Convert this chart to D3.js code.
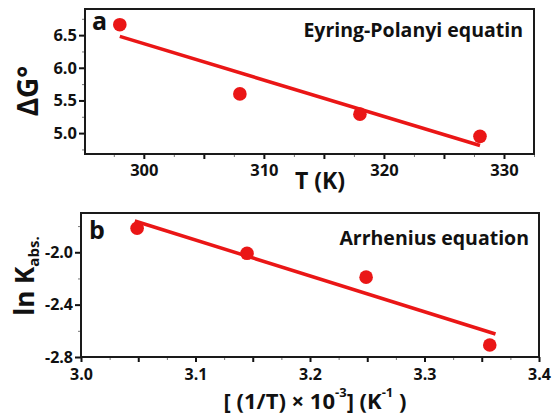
<!DOCTYPE html>
<html><head><meta charset="utf-8">
<script src="https://cdn.jsdelivr.net/npm/d3@7"></script>
<style>
body{margin:0;background:#fff;}
text{font-family:"Open Sans",sans-serif;font-weight:700;fill:#111;}
</style></head>
<body><svg id="c" width="555" height="415"></svg>
<script>
// Panel a: Eyring-Polanyi
const tempK = [298, 308, 318, 328];
const deltaG = [6.66, 5.60, 5.29, 4.95];
const fitA_T = [298, 328];
const fitA_G = [6.48, 4.81];
const xTicksA = [300, 310, 320, 330];
const yTicksA = [5.0, 5.5, 6.0, 6.5];
// Panel b: Arrhenius
const invT = [3.049, 3.145, 3.249, 3.357];
const lnK = [-1.817, -2.008, -2.19, -2.708];
const fitB_X = [3.047, 3.362];
const fitB_Y = [-1.761, -2.624];
const xTicksB = [3.0, 3.1, 3.2, 3.3, 3.4];
const yTicksB = [-2.8, -2.4, -2.0];

const svg = d3.select("#c");
const red = "#ea1616";
const fmt1 = v => v.toFixed(1);

function panel(o){
  const g = svg.append("g");
  const x = d3.scaleLinear().domain(o.xd).range([o.l, o.r]);
  const y = d3.scaleLinear().domain(o.yd).range([o.b, o.t]);
  const xAxisMinor = d3.axisBottom(x).tickValues(o.xMinor).tickSize(3).tickFormat("");
  g.append("g").attr("transform",`translate(0,${o.b})`).call(xAxisMinor)
    .call(s=>s.select(".domain").remove()).selectAll("line").attr("stroke","#777").attr("stroke-width",1);
  const xAxisMid = d3.axisBottom(x).tickValues(o.xMid).tickSize(5).tickFormat("");
  g.append("g").attr("transform",`translate(0,${o.b})`).call(xAxisMid)
    .call(s=>s.select(".domain").remove()).selectAll("line").attr("stroke","#111").attr("stroke-width",2);
  const xAxis = d3.axisBottom(x).tickValues(o.xTicks).tickSize(5).tickPadding(o.xpad).tickFormat(o.xFmt);
  const xa = g.append("g").attr("transform",`translate(0,${o.b})`).call(xAxis);
  xa.select(".domain").remove();
  xa.selectAll("line").attr("stroke","#111").attr("stroke-width",2);
  xa.selectAll("text").attr("font-size",o.fs).attr("font-family","'Open Sans',sans-serif").attr("font-weight",700).attr("fill","#111");

  const yAxisMinor = d3.axisLeft(y).tickValues(o.yMinor).tickSize(3).tickFormat("");
  g.append("g").attr("transform",`translate(${o.l},0)`).call(yAxisMinor)
    .call(s=>s.select(".domain").remove()).selectAll("line").attr("stroke","#777").attr("stroke-width",1);
  const yAxis = d3.axisLeft(y).tickValues(o.yTicks).tickSize(6).tickPadding(2).tickFormat(o.yFmt);
  const ya = g.append("g").attr("transform",`translate(${o.l},0)`).call(yAxis);
  ya.select(".domain").remove();
  ya.selectAll("line").attr("stroke","#111").attr("stroke-width",2);
  ya.selectAll("text").attr("font-size",o.fs).attr("font-family","'Open Sans',sans-serif").attr("font-weight",700).attr("fill","#111");

  g.append("rect").attr("x",o.l).attr("y",o.t).attr("width",o.r-o.l).attr("height",o.b-o.t)
    .attr("fill","none").attr("stroke","#1a1a1a").attr("stroke-width",2);

  g.append("line").attr("x1",x(o.fx[0])).attr("y1",y(o.fy[0])).attr("x2",x(o.fx[1])).attr("y2",y(o.fy[1]))
    .attr("stroke",red).attr("stroke-width",3.5);
  g.selectAll("circle.p").data(o.px.map((v,i)=>[v,o.py[i]])).enter().append("circle")
    .attr("cx",d=>x(d[0])).attr("cy",d=>y(d[1])).attr("r",6.8).attr("fill",red);
  return {g,x,y};
}

panel({l:85,r:534,t:9,b:154,xd:[295.1,332.5],yd:[4.68,6.9],
  xTicks:xTicksA, xMid:d3.range(305,332,10), xMinor:d3.range(297.5,333,2.5),
  yTicks:yTicksA, yMinor:d3.range(4.75,6.9,0.25),
  xFmt:d3.format("d"), yFmt:fmt1, fs:16.5, xpad:5,
  fx:fitA_T, fy:fitA_G, px:tempK, py:deltaG});

panel({l:81,r:539,t:213,b:357,xd:[3.0,3.4],yd:[-2.8,-1.7],
  xTicks:xTicksB, xMid:[3.05,3.15,3.25,3.35], xMinor:d3.range(3.025,3.4,0.05),
  yTicks:yTicksB, yMinor:[-2.6,-2.2,-1.8],
  xFmt:fmt1, yFmt:fmt1, fs:16, xpad:7,
  fx:fitB_X, fy:fitB_Y, px:invT, py:lnK});

svg.append("text").attr("x",92).attr("y",30).attr("font-size",25).text("a");
svg.append("text").attr("x",89).attr("y",239).attr("font-size",25).text("b");
svg.append("text").attr("x",523).attr("y",37).attr("text-anchor","end").attr("font-size",19.5).text("Eyring-Polanyi equatin");
svg.append("text").attr("x",529).attr("y",245).attr("text-anchor","end").attr("font-size",19.5).text("Arrhenius equation");

svg.append("text").attr("x",320).attr("y",189).attr("text-anchor","middle").attr("font-size",23).text("T (K)");
svg.append("text").attr("transform","translate(38,91) rotate(-90)").attr("text-anchor","middle").attr("font-size",28).text("ΔG°");
const ylb = svg.append("text").attr("transform","translate(34,276) rotate(-90)").attr("text-anchor","middle").attr("font-size",26);
ylb.append("tspan").text("ln K");
ylb.append("tspan").attr("font-size",15).attr("dy",5).text("abs.");

const xlb = svg.append("text").attr("x",315).attr("y",409).attr("text-anchor","middle").attr("font-size",22);
xlb.append("tspan").text("[ (1/T) × 10");
xlb.append("tspan").attr("font-size",13).attr("dy",-12).text("-3");
xlb.append("tspan").attr("dy",12).text("] (K");
xlb.append("tspan").attr("font-size",13).attr("dy",-12).text("-1");
xlb.append("tspan").attr("dy",12).text(" )");
</script></body></html>
